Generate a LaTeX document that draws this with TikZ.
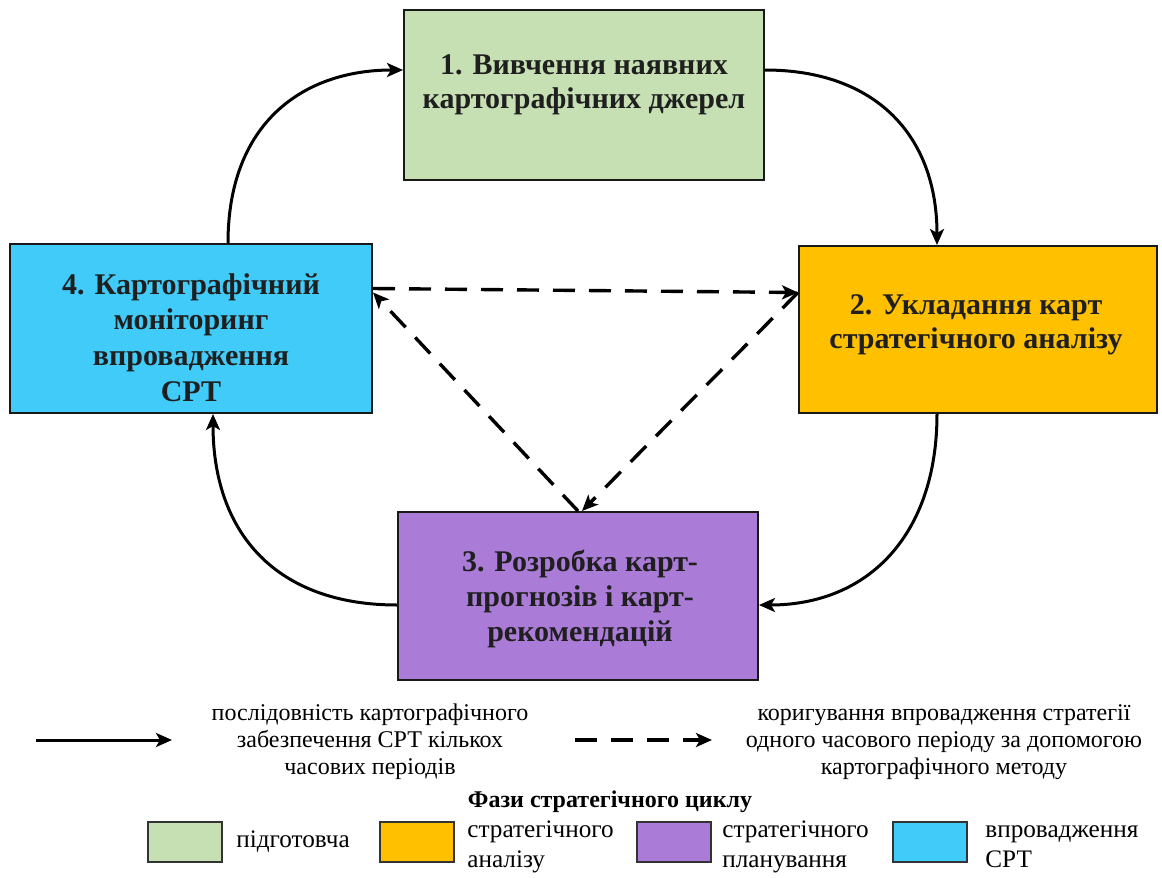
\documentclass[tikz,border=0pt]{standalone}
\usepackage{fontspec}
\setmainfont{Liberation Serif}
\newfontfamily\tnr{Liberation Serif}
\usetikzlibrary{arrows.meta,calc}
\definecolor{cgreen}{HTML}{C6E0B4}
\definecolor{corange}{HTML}{FFC000}
\definecolor{cpurple}{HTML}{AB7BD8}
\definecolor{cblue}{HTML}{40CBF8}
\tikzset{
  phase/.style={draw=black!90, line width=1pt, minimum width=180pt, minimum height=84pt, inner sep=0pt},
  boxtext/.style={font=\tnr\fontsize{15}{17}\selectfont\bfseries, align=center, text=black!88},
  seq/.style={line width=1.5pt, -{Stealth[length=8pt,width=7pt,inset=2pt]}},
  corr/.style={line width=1.7pt, dash pattern=on 11pt off 7pt, -{Stealth[length=8pt,width=7pt,inset=2pt]}},
  legtext/.style={font=\tnr\fontsize{12}{13.5}\selectfont, align=center},
  swatch/.style={draw=black!80, line width=0.8pt, minimum width=37pt, minimum height=20pt, inner sep=0pt},
  swtext/.style={font=\tnr\fontsize{12.6}{15}\selectfont, align=left, anchor=west, inner sep=0pt}
}
\begin{document}
\begin{tikzpicture}[x=0.5pt,y=-0.5pt]
\useasboundingbox (0,0) rectangle (1162,878);
% phase boxes
\node[phase, fill=cgreen, minimum width=180pt, minimum height=85pt] (b1) at (584,95) {};
\node[phase, fill=corange, minimum width=179pt, minimum height=83.5pt] (b2) at (978,329.5) {};
\node[phase, fill=cpurple, minimum width=180pt, minimum height=84pt] (b3) at (578,596) {};
\node[phase, fill=cblue, minimum width=181pt, minimum height=84.5pt] (b4) at (191,328.5) {};
\node[boxtext] (t1) at ($(b1)+(0,-10)$) {1. Вивчення наявних\\картографічних джерел};
\node[boxtext] (t2) at ($(b2)+(-2,-5)$) {2. Укладання карт\\стратегічного аналізу};
\node[boxtext, font=\tnr\fontsize{15}{17.5}\selectfont\bfseries] (t3) at ($(b3)+(2,3)$) {3. Розробка карт-\\прогнозів і карт-\\рекомендацій};
\node[boxtext, font=\tnr\fontsize{15}{17.8}\selectfont\bfseries] (t4) at ($(b4)+(0,9)$) {4. Картографічний\\моніторинг\\впровадження\\СРТ};
% sequence arrows
\draw[seq] ($(b4.north)+(37,0)$) .. controls ($(b4.north)+(37,-120)$) and ($(b1.west)+(-100,-25)$) .. ($(b1.west)+(0,-25)$);
\draw[seq] ($(b1.east)+(0,-25)$) .. controls ($(b1.east)+(110,-25)$) and ($(b2.north)+(-41,-110)$) .. ($(b2.north)+(-41,0)$);
\draw[seq] ($(b2.south)+(-41,0)$) .. controls ($(b2.south)+(-41,120)$) and ($(b3.east)+(110,9)$) .. ($(b3.east)+(0,9)$);
\draw[seq] ($(b3.west)+(0,9)$) .. controls ($(b3.west)+(-120,9)$) and ($(b4.south)+(22,120)$) .. ($(b4.south)+(22,0)$);
% correction arrows
\draw[corr] ($(b4.east)+(0,-40)$) -- ($(b2.west)+(0,-37)$);
\draw[corr] ($(b2.west)+(0,-37)$) -- ($(b3.north)+(4,0)$);
\draw[corr] ($(b3.north)+(0,0)$) -- ($(b4.east)+(0,-36)$);
% legend
\coordinate (ls1) at (36,740);
\coordinate (ls2) at (172,740);
\draw[seq] (ls1) -- (ls2);
\node[legtext] (lt1) at (370,742) {послідовність картографічного\\забезпечення СРТ кількох\\часових періодів};
\coordinate (ld1) at (575,740);
\coordinate (ld2) at (712,740);
\draw[corr] (ld1) -- (ld2);
\node[legtext] (lt2) at (944,742) {коригування впровадження стратегії\\одного часового періоду за допомогою\\картографічного методу};
\node[font=\tnr\fontsize{12}{13}\selectfont\bfseries] (lh) at (610,802) {Фази стратегічного циклу};
\node[swatch, fill=cgreen] (s1) at (185,842) {};
\node[swatch, fill=corange] (s2) at (417,842) {};
\node[swatch, fill=cpurple] (s3) at (674,842) {};
\node[swatch, fill=cblue] (s4) at (930,842) {};
\node[swtext] (st1) at (236,842) {підготовча};
\node[swtext] (st2) at (467,847) {стратегічного\\аналізу};
\node[swtext] (st3) at (722,847) {стратегічного\\планування};
\node[swtext] (st4) at (985,847) {впровадження\\СРТ};
\end{tikzpicture}
\end{document}
